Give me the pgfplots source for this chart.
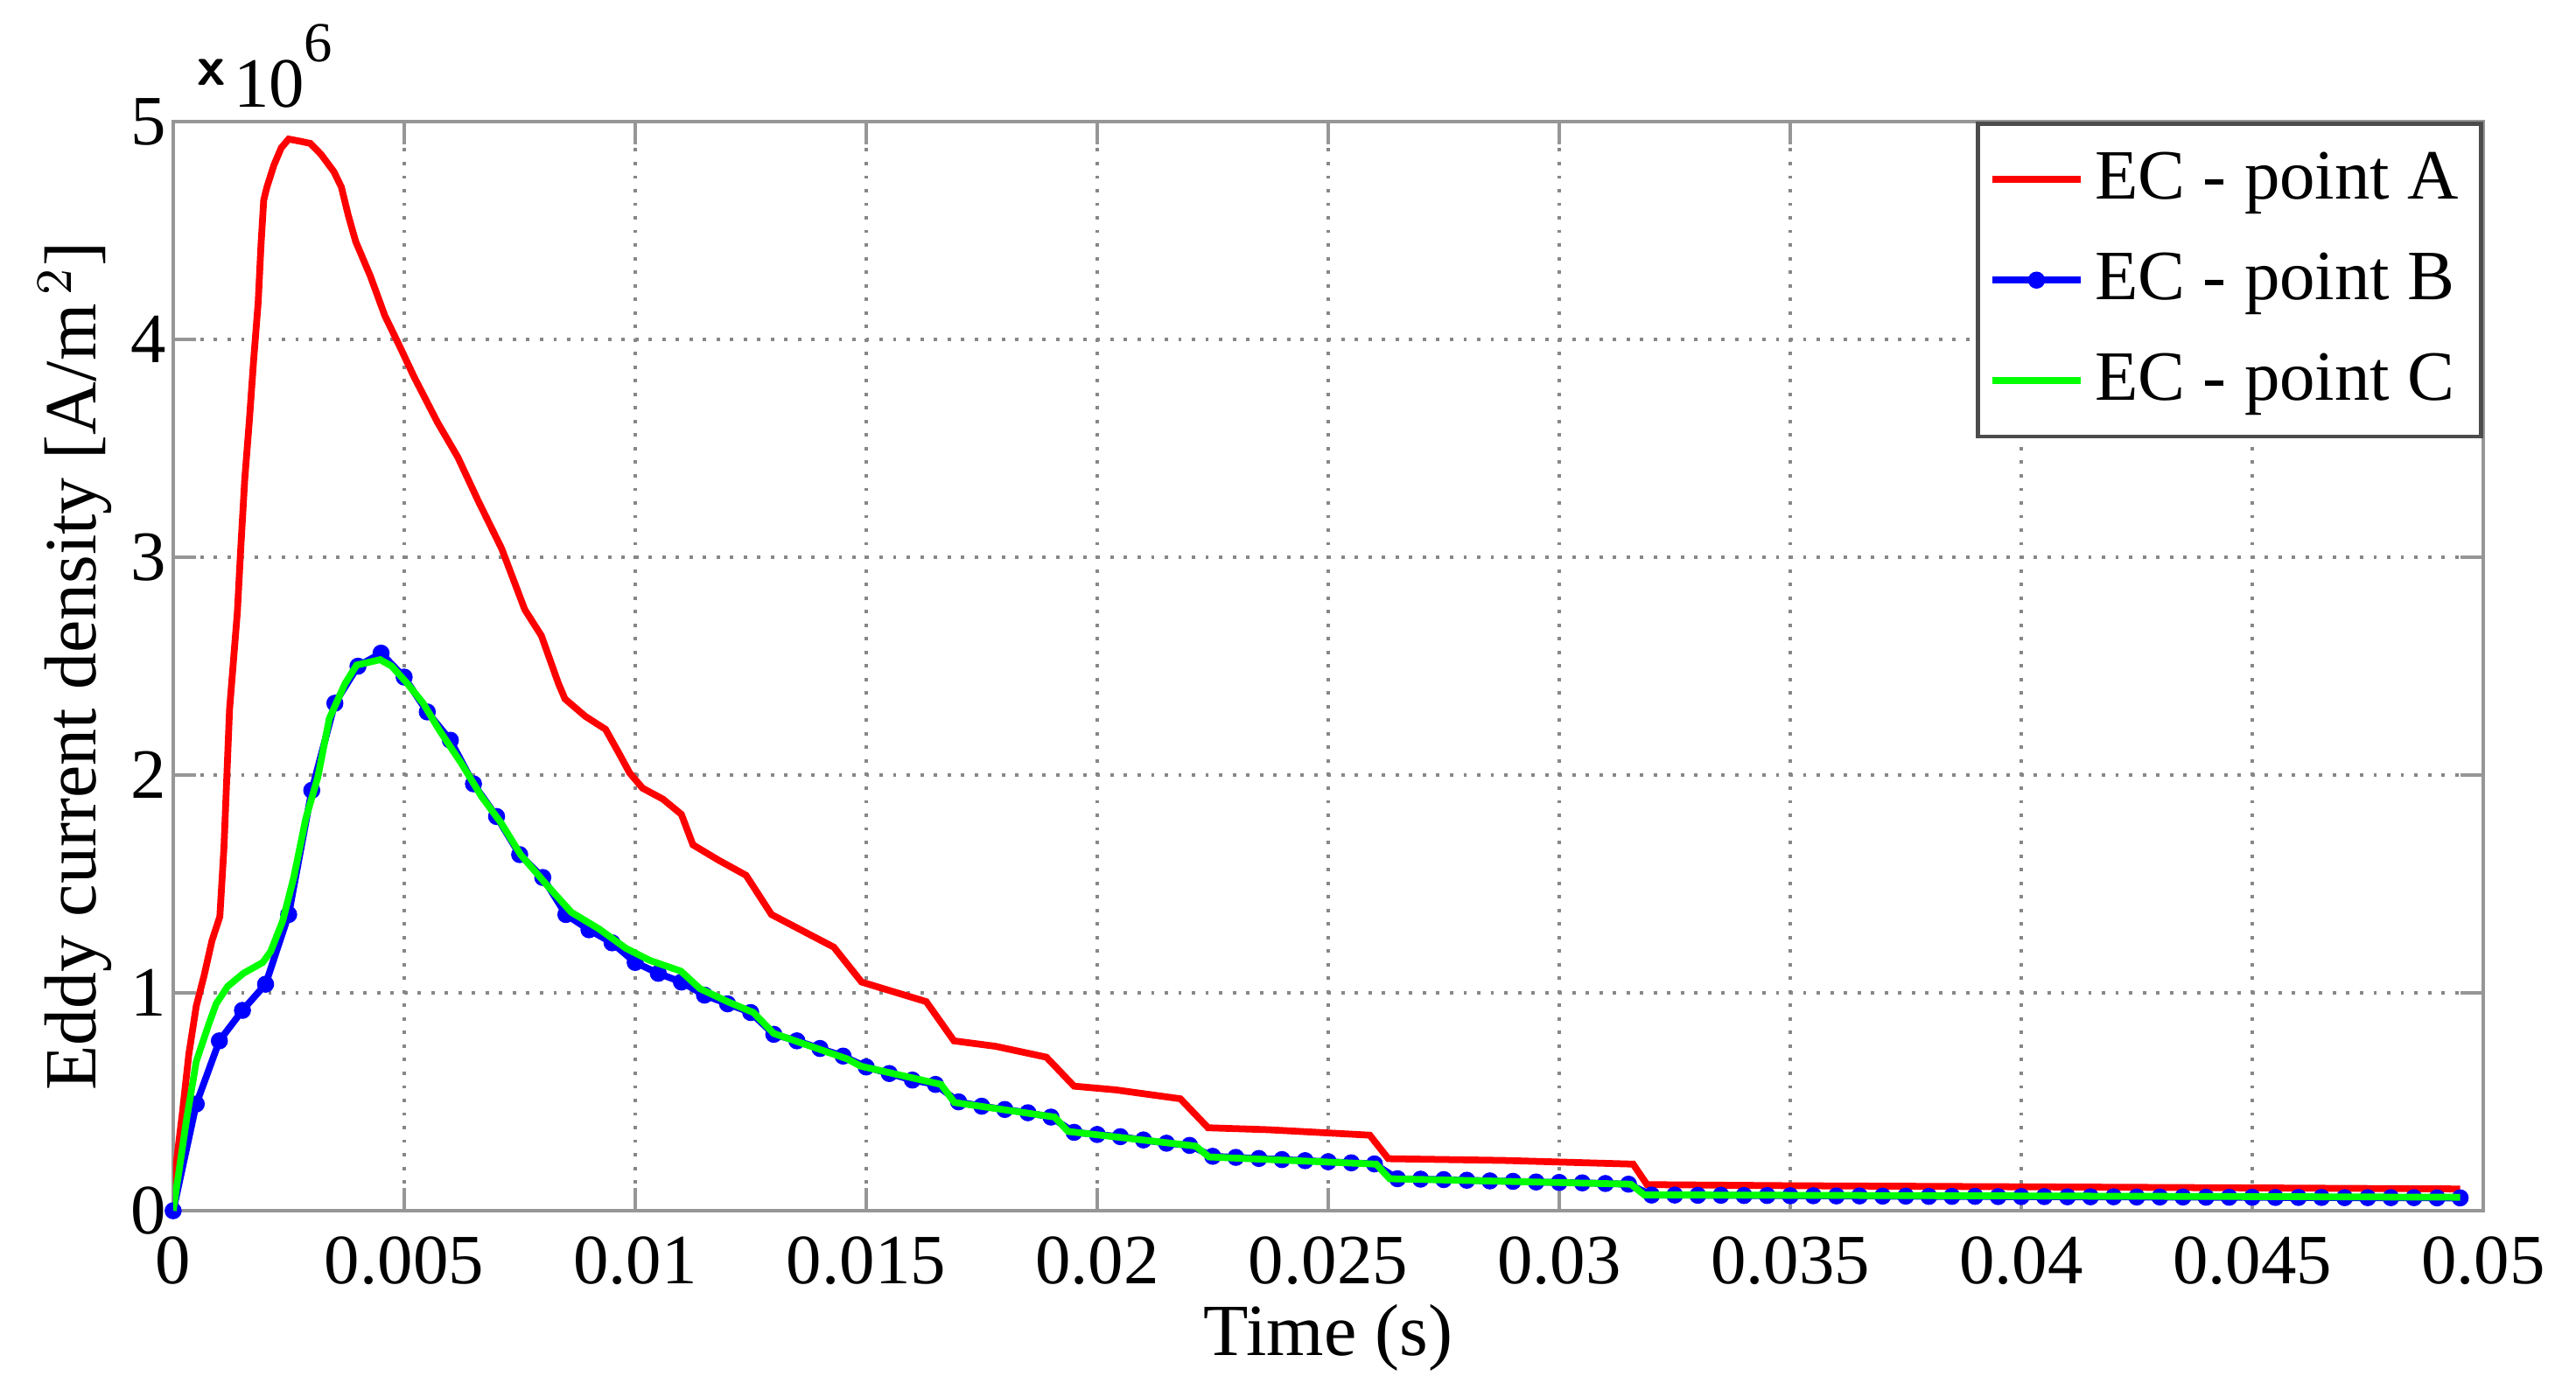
\documentclass[border=0pt]{standalone}
\usepackage{fontspec}
\setmainfont{Liberation Serif}
\usepackage{pgfplots}
\pgfplotsset{compat=1.18}
\definecolor{axgray}{RGB}{150,150,150}
\definecolor{gridgray}{RGB}{135,135,135}

\begin{document}
\begin{tikzpicture}
\begin{axis}[
    scale only axis,
    width=408.2pt, height=192.5pt,
    xmin=0, xmax=0.05, ymin=0, ymax=5,
    clip mode=individual,
    scaled ticks=false,
    xtick={0,0.005,0.01,0.015,0.02,0.025,0.03,0.035,0.04,0.045,0.05},
    xticklabels={0,0.005,0.01,0.015,0.02,0.025,0.03,0.035,0.04,0.045,0.05},
    ytick={0,1,2,3,4,5},
    yticklabels={0,1,2,3,4,5},
    /pgf/number format/assume math mode=true,
    ticklabel style={font=\fontsize{12.5}{14}\selectfont},
    xticklabel style={yshift=-1pt},
    yticklabel style={inner xsep=1pt},
    tick align=inside,
    major tick length=4pt,
    tick style={axgray, line width=0.7pt},
    axis line style={axgray, line width=0.7pt},
    grid=major,
    major grid style={gridgray, line width=0.6pt, dash pattern=on 0.6pt off 1.8pt},
    xlabel={Time (s)},
    ylabel={Eddy current density [A/m$^{\,2}$]},
    xlabel style={at={(rel axis cs:0.5,0)}, anchor=base, yshift=-25.5pt,
        font=\fontsize{13}{15}\selectfont},
    ylabel style={at={(rel axis cs:0,0.5)}, anchor=base, yshift=13.6pt,
        font=\fontsize{13}{15}\selectfont},
    legend style={at={(rel axis cs:1,1)}, anchor=north east,
        draw=black!70, line width=0.7pt, fill=white,
        font=\fontsize{12.5}{14}\selectfont,
        inner xsep=2pt, inner ysep=3pt, row sep=4pt},
    legend cell align=left,
    legend image code/.code={\draw[#1,mark repeat=2,mark phase=2]
        plot coordinates {(0pt,0pt) (7.75pt,0pt) (15.5pt,0pt)};},
]
\coordinate (sw) at (rel axis cs:0,0);
\coordinate (ne) at (rel axis cs:1,1);

% point A
\addplot[red, line width=1.2pt] coordinates {
(0,0) (0.00008,0.24) (0.0002,0.45) (0.00034,0.72) (0.0005,0.94) (0.00067,1.08)
(0.00084,1.24) (0.00101,1.35) (0.0011,1.67) (0.00122,2.30) (0.00139,2.75)
(0.00146,3.03) (0.00155,3.36) (0.00165,3.63) (0.00174,3.90) (0.00184,4.17)
(0.0019,4.43) (0.00196,4.64) (0.00203,4.70) (0.00218,4.80) (0.00234,4.88)
(0.0025,4.92) (0.00275,4.91) (0.00297,4.90) (0.0032,4.85) (0.00348,4.77)
(0.00364,4.70) (0.00379,4.57) (0.00395,4.45) (0.00427,4.29) (0.00458,4.11)
(0.0049,3.97) (0.00521,3.83) (0.00572,3.62) (0.00616,3.46) (0.0066,3.26)
(0.00711,3.04) (0.00761,2.76) (0.00797,2.64) (0.00834,2.42) (0.00848,2.35)
(0.00892,2.27) (0.00936,2.21) (0.00965,2.10) (0.00988,2.01) (0.01016,1.94)
(0.0106,1.89) (0.0110,1.82) (0.01125,1.68) (0.0118,1.61) (0.0124,1.54)
(0.01295,1.36) (0.0143,1.21) (0.0149,1.05) (0.0163,0.96) (0.0169,0.78)
(0.0178,0.755) (0.0189,0.705) (0.0195,0.572) (0.0204,0.555) (0.0218,0.514)
(0.0224,0.381) (0.0237,0.372) (0.0259,0.347) (0.0263,0.239) (0.0288,0.231)
(0.0316,0.214) (0.0319,0.12) (0.035,0.115) (0.04,0.11) (0.045,0.105) (0.0495,0.10)
};
\addlegendentry{EC - point A}

% point B
\addplot[blue, line width=1.2pt, mark=*, mark size=0.9pt, mark options={solid}] coordinates {
(0,0) (0.0005,0.49) (0.001,0.78) (0.0015,0.92) (0.002,1.04) (0.0025,1.36)
(0.003,1.93) (0.0035,2.33) (0.004,2.50) (0.0045,2.56) (0.005,2.45) (0.0055,2.29)
(0.006,2.16) (0.0065,1.96) (0.007,1.81) (0.0075,1.635) (0.008,1.53) (0.0085,1.36)
(0.009,1.29) (0.0095,1.23) (0.01,1.14) (0.0105,1.09) (0.011,1.05) (0.0115,0.99)
(0.012,0.95) (0.0125,0.91) (0.013,0.81) (0.0135,0.78) (0.014,0.745) (0.0145,0.71)
(0.015,0.66) (0.0155,0.63) (0.016,0.60) (0.0165,0.58) (0.017,0.50) (0.0175,0.48)
(0.018,0.465) (0.0185,0.45) (0.019,0.43) (0.0195,0.36) (0.02,0.35) (0.0205,0.34)
(0.021,0.325) (0.0215,0.31) (0.022,0.30) (0.0225,0.25) (0.023,0.245) (0.0235,0.24)
(0.024,0.235) (0.0245,0.23) (0.025,0.225) (0.0255,0.22) (0.026,0.215) (0.0265,0.147)
(0.027,0.145) (0.0275,0.143) (0.028,0.14) (0.0285,0.137) (0.029,0.135) (0.0295,0.132)
(0.03,0.13) (0.0305,0.128) (0.031,0.125) (0.0315,0.122) (0.032,0.072) (0.0325,0.072)
(0.033,0.071) (0.0335,0.071) (0.034,0.070) (0.0345,0.070) (0.035,0.069) (0.0355,0.069)
(0.036,0.068) (0.0365,0.068) (0.037,0.067) (0.0375,0.067) (0.038,0.066) (0.0385,0.066)
(0.039,0.066) (0.0395,0.065) (0.04,0.065) (0.0405,0.065) (0.041,0.064) (0.0415,0.064)
(0.042,0.064) (0.0425,0.063) (0.043,0.063) (0.0435,0.063) (0.044,0.062) (0.0445,0.062)
(0.045,0.062) (0.0455,0.061) (0.046,0.061) (0.0465,0.061) (0.047,0.060) (0.0475,0.060)
(0.048,0.060) (0.0485,0.060) (0.049,0.059) (0.0495,0.059)
};
\addlegendentry{EC - point B}

% point C
\addplot[green, line width=1.2pt] coordinates {
(0,0) (0.00029,0.42) (0.0005,0.685) (0.00076,0.85) (0.00093,0.95) (0.00118,1.03)
(0.00152,1.09) (0.00194,1.14) (0.00211,1.19) (0.00237,1.33) (0.00261,1.53)
(0.00287,1.80) (0.00313,1.99) (0.00338,2.26) (0.00372,2.42) (0.00397,2.505)
(0.00448,2.53) (0.00473,2.50) (0.00507,2.42) (0.00541,2.33) (0.00575,2.21)
(0.00625,2.05) (0.00668,1.90) (0.0071,1.78) (0.00752,1.635) (0.00811,1.49)
(0.00862,1.37) (0.00921,1.295) (0.0098,1.205) (0.01031,1.15) (0.01099,1.10)
(0.0114,1.02) (0.0120,0.96) (0.01256,0.91) (0.0130,0.814) (0.01459,0.697)
(0.01488,0.664) (0.01662,0.58) (0.01691,0.497) (0.01908,0.43) (0.01937,0.364)
(0.02213,0.297) (0.02242,0.247) (0.02604,0.214) (0.02633,0.147) (0.03155,0.122)
(0.03184,0.073) (0.04,0.068) (0.045,0.065) (0.0495,0.062)
};
\addlegendentry{EC - point C}

\node[anchor=base west, inner sep=0pt, font=\fontsize{12.5}{14}\selectfont,
    xshift=4pt, yshift=2.6pt] at (rel axis cs:0,1)
    {\raisebox{3.9pt}{\sffamily\bfseries\fontsize{10}{12}\selectfont x}\hspace{1.5pt}10\raisebox{8pt}{\fontsize{10}{12}\selectfont 6}};
\end{axis}
\pgfresetboundingbox
\path ([shift={(-30.6pt,-32.8pt)}]sw) rectangle ([shift={(16.4pt,21.5pt)}]ne);
\end{tikzpicture}
\end{document}
